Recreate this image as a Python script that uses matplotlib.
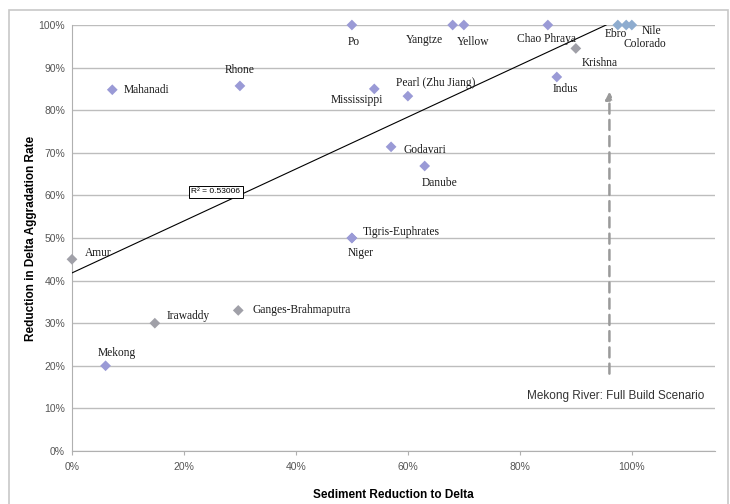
import matplotlib
matplotlib.use("Agg")
import matplotlib.pyplot as plt
from matplotlib.patches import Rectangle
from matplotlib.ticker import PercentFormatter, MultipleLocator

# river deltas: sediment reduction vs. reduction in aggradation rate
rivers = ["Po", "Yangtze", "Yellow", "Chao Phraya", "Ebro", "Colorado", "Nile",
          "Krishna", "Indus", "Pearl (Zhu Jiang)", "Mississippi", "Rhone", "Mahanadi",
          "Godavari", "Danube", "Tigris-Euphrates", "Niger", "Amur", "Irawaddy",
          "Ganges-Brahmaputra", "Mekong"]
sediment_red = [0.50, 0.68, 0.70, 0.85, 0.975, 0.99, 1.00,
                0.90, 0.866, 0.60, 0.54, 0.30, 0.072,
                0.57, 0.63, 0.50, 0.50, 0.0, 0.148,
                0.297, 0.06]
aggradation_red = [1.00, 1.00, 1.00, 1.00, 1.00, 1.00, 1.00,
                   0.945, 0.878, 0.833, 0.85, 0.857, 0.848,
                   0.714, 0.669, 0.50, 0.50, 0.45, 0.30,
                   0.33, 0.20]
# marker tint as seen in the picture
point_kind = ["v", "v", "v", "v", "b", "b", "b",
              "g", "v", "v", "v", "v", "v",
              "v", "v", "v", "v", "g", "g",
              "g", "v"]
KIND_COLORS = {"v": "#9a9ad6", "g": "#a0a0a8", "b": "#8eaccf"}

# label placement: (dx, dy) in pixels, horizontal alignment
label_offsets = {
    "Po": (2, -17, "center"),
    "Yangtze": (-10, -15, "right"),
    "Yellow": (-7, -17, "left"),
    "Chao Phraya": (-1, -14, "center"),
    "Ebro": (9, -9, "right"),
    "Colorado": (-3, -19, "left"),
    "Nile": (10, -6, "left"),
    "Krishna": (6, -15, "left"),
    "Indus": (8, -12, "center"),
    "Pearl (Zhu Jiang)": (-12, 13, "left"),
    "Mississippi": (9, -11, "right"),
    "Rhone": (0, 16, "center"),
    "Mahanadi": (11, 0, "left"),
    "Godavari": (12, -3, "left"),
    "Danube": (15, -17, "center"),
    "Tigris-Euphrates": (11, 6, "left"),
    "Niger": (-4, -15, "left"),
    "Amur": (13, 6, "left"),
    "Irawaddy": (12, 7, "left"),
    "Ganges-Brahmaputra": (14, 0, "left"),
    "Mekong": (11, 13, "center"),
}

# Excel linear trendline
trend_intercept = 0.418
trend_slope = 0.61
r_squared = 0.53006

# Mekong full build scenario arrow
scenario_x = 0.96
scenario_y = (0.175, 0.85)

fig = plt.figure(figsize=(7.3, 5.04), dpi=100)
ax = fig.add_axes([0.0986, 0.1052, 0.8804, 0.8452])

ax.set_xlim(0, 1.148)
ax.set_ylim(0, 1.0)
ax.yaxis.set_major_locator(MultipleLocator(0.1))
ax.xaxis.set_major_locator(MultipleLocator(0.2))
ax.yaxis.set_major_formatter(PercentFormatter(1.0, decimals=0))
ax.xaxis.set_major_formatter(PercentFormatter(1.0, decimals=0))
ax.grid(axis="y", color="#bdbdbd", linewidth=1.0)
ax.set_axisbelow(True)
for side in ["top", "right"]:
    ax.spines[side].set_visible(False)
for side in ["left", "bottom"]:
    ax.spines[side].set_color("#b0b0b0")
ax.tick_params(axis="both", colors="#b0b0b0", labelcolor="#555555", labelsize=7.5, length=3)
ax.tick_params(axis="y", length=0, pad=5)
ax.tick_params(axis="x", pad=5)
for lab in ax.get_xticklabels() + ax.get_yticklabels():
    lab.set_family("Liberation Sans")

# trendline, clipped at the top of the axis
x_end = (1.0 - trend_intercept) / trend_slope
ax.plot([0, x_end], [trend_intercept, trend_intercept + trend_slope * x_end],
        color="black", linewidth=0.8, zorder=3)
ax.text(0.257, 0.608, f"R² = {r_squared}", fontsize=6, family="Liberation Sans",
        ha="center", va="center", zorder=5,
        bbox=dict(boxstyle="square,pad=0.3", facecolor="white", edgecolor="black", linewidth=0.7))

# scenario arrow
ax.annotate("", xy=(scenario_x, scenario_y[1]), xytext=(scenario_x, scenario_y[0]),
            arrowprops=dict(arrowstyle="-|>", color="#9a9a9a", linewidth=1.8,
                            linestyle=(0, (4, 2.5)), mutation_scale=11))
ax.text(1.13, 0.13, "Mekong River: Full Build Scenario", fontsize=8.5, family="Liberation Sans",
        color="#333333", ha="right", va="center")

colors = [KIND_COLORS[k] for k in point_kind]
ax.scatter(sediment_red, aggradation_red, marker="D", s=30, c=colors,
           edgecolors="none", zorder=4, clip_on=False)

for name, x, y in zip(rivers, sediment_red, aggradation_red):
    dx, dy, ha = label_offsets[name]
    ax.annotate(name, (x, y), xytext=(dx, dy), textcoords="offset pixels",
                ha=ha, va="center", fontsize=8.3, family="Liberation Serif",
                color="#1a1a1a", zorder=6)

ax.set_xlabel("Sediment Reduction to Delta", fontsize=8.5, fontweight="bold",
              family="Liberation Sans", labelpad=12)
ax.set_ylabel("Reduction in Delta Aggradation Rate", fontsize=8.5, fontweight="bold",
              family="Liberation Sans", labelpad=1)

# chart frame
fig.patches.append(Rectangle((0.012, -0.05), 0.985, 1.03, transform=fig.transFigure,
                             fill=False, edgecolor="#c8c8c8", linewidth=1.2))

fig.savefig("out.png", dpi=100)
